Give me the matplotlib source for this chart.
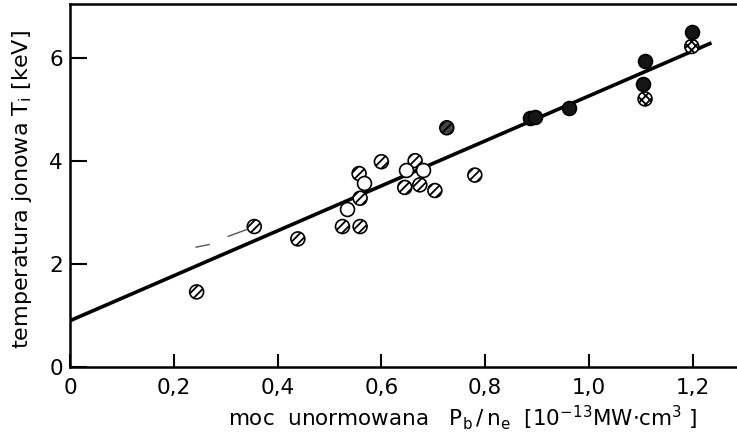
import matplotlib
matplotlib.use("Agg")
import matplotlib.pyplot as plt
import numpy as np

plt.rcParams['font.family'] = ['DejaVu Sans']
plt.rcParams['mathtext.default'] = 'regular'
plt.rcParams['hatch.linewidth'] = 1.3

# hatched circles
hatched_x = [0.244, 0.355, 0.439, 0.525, 0.559, 0.559, 0.557, 0.600, 0.665, 0.645, 0.674, 0.703, 0.780]
hatched_y = [1.46, 2.73, 2.49, 2.73, 2.73, 3.28, 3.76, 3.99, 4.01, 3.49, 3.54, 3.43, 3.73]
# open circles
open_x = [0.533, 0.567, 0.647, 0.680]
open_y = [3.08, 3.57, 3.82, 3.82]
# dark hatched circle
darkh_x = [0.726]
darkh_y = [4.65]
# filled (black) circles
filled_x = [0.886, 0.896, 0.962, 1.108, 1.105, 1.198]
filled_y = [4.84, 4.86, 5.03, 5.95, 5.51, 6.52]
# dotted circles
dotted_x = [1.108, 1.198]
dotted_y = [5.21, 6.23]

# fitted line
fit_x = [0.0, 1.236]
fit_y = [0.90, 6.30]
# faint dash fragments
dash_x = [0.243, 0.268, np.nan, 0.305, 0.340]
dash_y = [2.33, 2.38, np.nan, 2.54, 2.67]

xticks = [0, 0.2, 0.4, 0.6, 0.8, 1.0, 1.2]
xticklabels = ['0', '0,2', '0,4', '0,6', '0,8', '1,0', '1,2']
yticks = [0, 2, 4, 6]
yticklabels = ['0', '2', '4', '6']

W, H = 737, 443
fig = plt.figure(figsize=(W / 100, H / 100), dpi=100)
x0, y0 = 70, 367
ax = fig.add_axes([x0 / W, (H - y0) / H, (W - x0 + 2) / W, (y0 - 4) / H])
ax.set_xlim(0, (W - x0 + 2) / 519.0)
ax.set_ylim(0, (y0 - 4) / 51.45)

ax.plot(fit_x, fit_y, color='black', lw=2.6, solid_capstyle='butt', zorder=2)
ax.plot(dash_x, dash_y, color='#555555', lw=1.0, zorder=2)

s = 100
ax.scatter(hatched_x, hatched_y, s=s, facecolor='white', edgecolor='black',
           hatch='////', linewidths=1.2, zorder=3)
ax.scatter(open_x, open_y, s=s, facecolor='white', edgecolor='black',
           linewidths=1.2, zorder=3)
ax.scatter(darkh_x, darkh_y, s=s, facecolor='#444444', edgecolor='black',
           hatch='////', linewidths=1.2, zorder=3)
ax.scatter(filled_x, filled_y, s=s, facecolor='#151515', edgecolor='black',
           linewidths=1.2, zorder=3)
ax.scatter(dotted_x, dotted_y, s=s, facecolor='white', edgecolor='black',
           hatch='xxxx', linewidths=1.2, zorder=3)

for side in ['left', 'bottom', 'top']:
    ax.spines[side].set_linewidth(1.8)
ax.spines['right'].set_visible(False)

ax.set_xticks(xticks)
ax.set_xticklabels(xticklabels)
ax.set_yticks(yticks)
ax.set_yticklabels(yticklabels)
ax.tick_params(axis='x', direction='in', length=9.5, width=1.5, pad=8, labelsize=15.5)
ax.tick_params(axis='y', direction='in', length=12, width=1.5, pad=5, labelsize=15.5)

ax.set_xlabel(r'moc  unormowana   $P_b\,/\,n_e$  [$10^{-13}$MW$\cdot$cm$^3$ ]', fontsize=15.5)
ax.xaxis.set_label_coords((463 - x0) / (W - x0 + 2), -0.10)
ax.set_ylabel(r'temperatura jonowa $T_i$ [keV]', fontsize=16)
ax.yaxis.set_label_coords((34 - x0) / (W - x0 + 2), 0.49)

fig.savefig('out.png', dpi=100)
